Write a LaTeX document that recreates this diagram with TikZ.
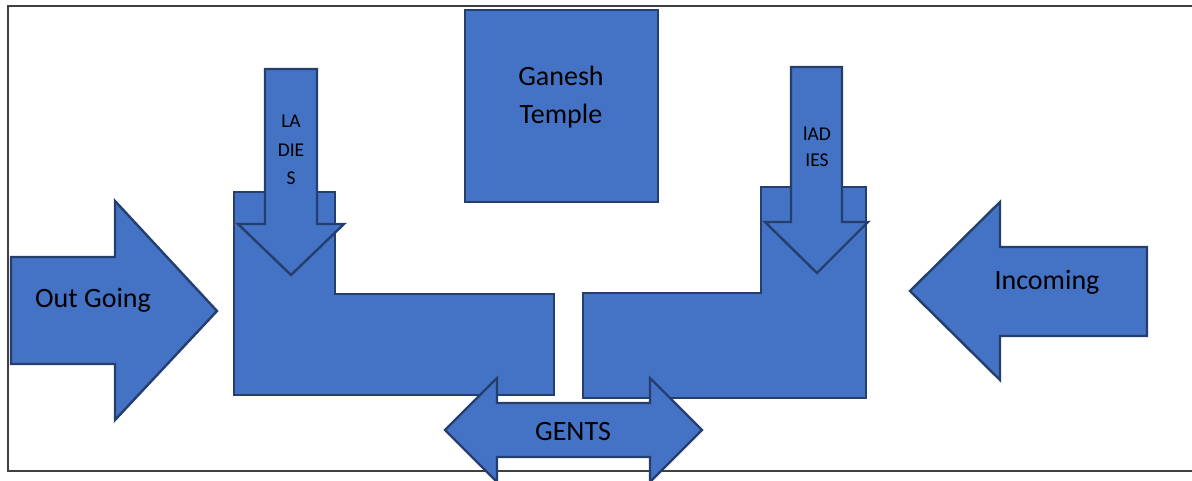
\documentclass[tikz,border=0pt]{standalone}
\usepackage{fontspec}
\setmainfont{Carlito}
\definecolor{boxfill}{HTML}{4472C4}
\definecolor{boxline}{HTML}{243F6E}
\begin{document}
\begin{tikzpicture}[x=1pt,y=-1pt,
  blockshape/.style={fill=boxfill,draw=boxline,line width=2.4pt,line join=miter},
  lbl/.style={font=\fontsize{28}{34}\selectfont,text=black,anchor=base,inner sep=0pt},
  small/.style={font=\fontsize{19.5}{24}\selectfont,text=black,anchor=base,inner sep=0pt}]
\useasboundingbox (0,0) rectangle (1192,481);
\fill[white] (0,0) rectangle (1192,481);
\draw[line width=1.5pt,draw=black!75] (1192,6) -- (8,6) -- (8,471) -- (1192,471);
% L shapes
\draw[blockshape] (234,192) -- (335,192) -- (335,294) -- (554,294) -- (554,395) -- (234,395) -- cycle;
\draw[blockshape] (866,187) -- (761,187) -- (761,293) -- (583,293) -- (583,398) -- (866,398) -- cycle;
% ladies arrows
\draw[blockshape] (265,69) -- (317,69) -- (317,224) -- (344,224) -- (291,275) -- (238,224) -- (265,224) -- cycle;
\draw[blockshape] (791,67) -- (842,67) -- (842,222) -- (868,222) -- (817,273) -- (765,222) -- (791,222) -- cycle;
% Ganesh temple
\draw[blockshape] (465,10) rectangle (658,202);
% Out going
\draw[blockshape] (11,257) -- (115,257) -- (115,201) -- (217,311) -- (115,420) -- (115,364) -- (11,364) -- cycle;
% Incoming
\draw[blockshape] (1147,247) -- (1000,247) -- (1000,202) -- (910,291) -- (1000,380) -- (1000,336) -- (1147,336) -- cycle;
% Gents
\draw[blockshape] (445,430) -- (497,378) -- (497,403) -- (650,403) -- (650,378) -- (702,430) -- (650,482) -- (650,457) -- (497,457) -- (497,482) -- cycle;
% labels
\node[lbl] (templeA) at (561,86) {Ganesh};
\node[lbl] (templeB) at (561,124) {Temple};
\node[lbl] (out) at (93,308) {Out Going};
\node[lbl] (in) at (1047,290) {Incoming};
\node[lbl] (gents) at (573,440) {GENTS};
\node[small] (lA) at (291,128) {LA};
\node[small] (lB) at (291,157) {DIE};
\node[small] (lC) at (291,185) {S};
\node[small] (rA) at (817,141) {lAD};
\node[small] (rB) at (817,167) {IES};
\end{tikzpicture}
\end{document}
